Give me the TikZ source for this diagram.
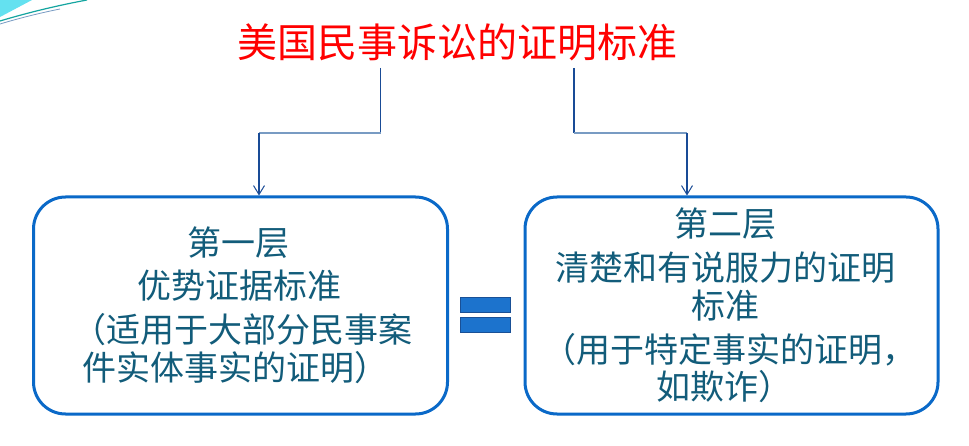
\documentclass[tikz,border=0pt]{standalone}
\usepackage{fontspec}
\newfontfamily\cjk{Noto Sans CJK SC}
\usetikzlibrary{arrows.meta}
\definecolor{boxblue}{RGB}{10,105,200}
\definecolor{txtteal}{RGB}{18,92,122}
\definecolor{linkdark}{RGB}{25,75,150}
\definecolor{linklight}{RGB}{120,155,195}
\definecolor{eqfill}{RGB}{28,115,205}
\definecolor{eqdraw}{RGB}{25,80,150}
\definecolor{decocyan}{RGB}{100,225,240}
\definecolor{decoteal}{RGB}{20,165,160}
\tikzset{
  x=1pt,y=-1pt,
  stdbox/.style={draw=boxblue,line width=3pt,rounded corners=32pt,fill=white,inner sep=0pt},
  btext/.style={font=\cjk\fontsize{34}{34}\selectfont,text=txtteal,inner sep=0pt},
  link/.style={draw=linkdark,line width=1.4pt},
  linkh/.style={draw=linklight,line width=1.6pt},
  tip/.style={-{Straight Barb[length=9pt,width=11pt,line width=1pt]}},
  eqbar/.style={fill=eqfill,draw=eqdraw,line width=1.5pt}
}
\begin{document}
\begin{tikzpicture}
\useasboundingbox (0,0) rectangle (969,446);
\fill[white] (0,0) rectangle (969,446);
% decoration
\fill[decocyan] (0,0) -- (32,0) -- (0,17) -- cycle;
\draw[decoteal,line width=1.2pt] (0,21) .. controls (30,12) and (60,5) .. (87,0);
\draw[linklight,line width=0.8pt] (0,24) .. controls (20,18) and (40,13) .. (60,9);
% title
\node[font=\cjk\fontsize{40}{40}\selectfont,text=red,inner sep=0pt] (title) at (457,42) {美国民事诉讼的证明标准};
% boxes
\node[stdbox,minimum width=414pt,minimum height=217pt] (lbox) at (240.5,305.5) {};
\node[stdbox,minimum width=413pt,minimum height=217pt] (rbox) at (731.5,305.5) {};
% connectors
\coordinate (ls) at (380.5,68);
\coordinate (lm1) at (380.5,133);
\coordinate (lm2) at (259,133);
\coordinate (rs) at (574,68);
\coordinate (rm1) at (574,133);
\coordinate (rm2) at (687,133);
\draw[link] (ls) -- (lm1);
\draw[linkh] (lm1) -- (lm2);
\draw[link,tip] (lm2) -- (lm2 |- lbox.north);
\draw[link] (rs) -- (rm1);
\draw[linkh] (rm1) -- (rm2);
\draw[link,tip] (rm2) -- (rm2 |- rbox.north);
% left text
\node[btext] (l1) at (238,243) {第一层};
\node[btext] (l2) at (239,286) {优势证据标准};
\node[btext,anchor=west] (l3) at (72,330) {（适用于大部分民事案};
\node[btext,anchor=west] (l4) at (82,368) {件实体事实的证明）};
% right text
\node[btext] (r1) at (725,224) {第二层};
\node[btext] (r2) at (725,268) {清楚和有说服力的证明};
\node[btext] (r3) at (725,306) {标准};
\node[btext] (r4) at (729,350) {（用于特定事实的证明，};
\node[btext] (r5) at (724,387) {如欺诈）};
% equals sign
\node[eqbar,minimum width=50pt,minimum height=15pt,inner sep=0pt] (eq1) at (485.5,305) {};
\node[eqbar,minimum width=50pt,minimum height=15pt,inner sep=0pt] (eq2) at (485.5,325) {};
\end{tikzpicture}
\end{document}
